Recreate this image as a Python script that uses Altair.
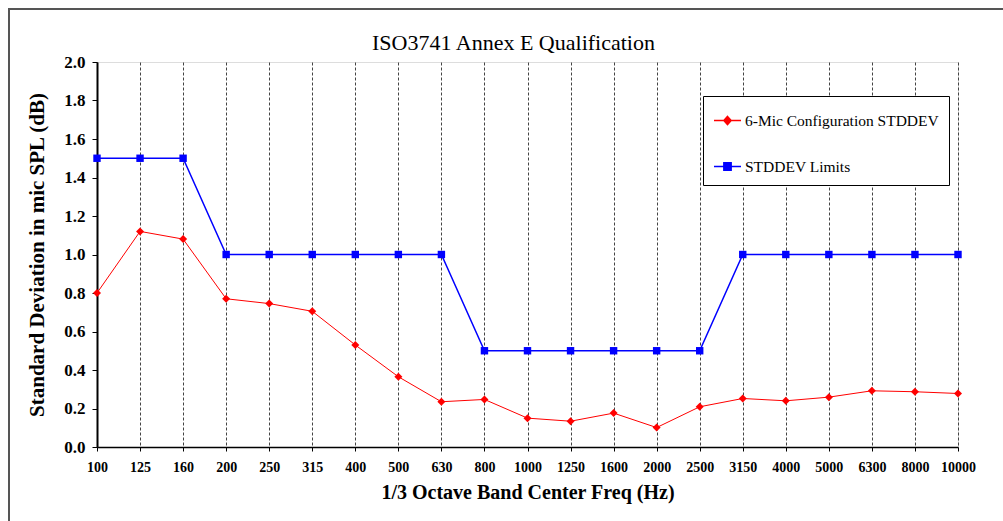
import altair as alt
import pandas as pd

freqs = ["100", "125", "160", "200", "250", "315", "400", "500", "630", "800", "1000",
         "1250", "1600", "2000", "2500", "3150", "4000", "5000", "6300", "8000", "10000"]
mic_stddev = [0.80, 1.12, 1.08, 0.77, 0.745, 0.705, 0.53, 0.365, 0.235, 0.247, 0.15,
              0.134, 0.176, 0.101, 0.209, 0.252, 0.24, 0.259, 0.292, 0.287, 0.278]
limits = [1.5, 1.5, 1.5, 1.0, 1.0, 1.0, 1.0, 1.0, 1.0, 0.5, 0.5,
          0.5, 0.5, 0.5, 0.5, 1.0, 1.0, 1.0, 1.0, 1.0, 1.0]
series_names = ["6-Mic Configuration STDDEV", "STDDEV Limits"]
series_colors = ["#ff0000", "#0000ff"]
y_ticks = [0.0, 0.2, 0.4, 0.6, 0.8, 1.0, 1.2, 1.4, 1.6, 1.8, 2.0]

rows = []
for f, v in zip(freqs, mic_stddev):
    rows.append({"freq": f, "series": series_names[0], "value": v})
for f, v in zip(freqs, limits):
    rows.append({"freq": f, "series": series_names[1], "value": v})
df = pd.DataFrame(rows)

FONT = "Liberation Serif"
W, H = 861, 385

x_enc = alt.X(
    "freq:O",
    scale=alt.Scale(type="point", padding=0, domain=freqs),
    axis=alt.Axis(
        title="1/3 Octave Band Center Freq (Hz)",
        labelAngle=0, grid=True, gridDash=[3, 2], gridColor="#444444", gridWidth=1,
        domainColor="black", domainWidth=1.5, tickColor="black", tickSize=4,
        labelFont=FONT, labelFontSize=14, labelFontWeight="bold", labelColor="black",
        labelPadding=9,
        titleFont=FONT, titleFontSize=20, titleFontWeight="bold", titleColor="black",
        titlePadding=8,
    ),
)
y_enc = alt.Y(
    "value:Q",
    scale=alt.Scale(domain=[0, 2], nice=False, zero=True),
    axis=alt.Axis(
        title="Standard Deviation in mic SPL (dB)",
        values=y_ticks, format=".1f", grid=False,
        domainColor="black", domainWidth=2, tickColor="black", tickSize=5,
        labelFont=FONT, labelFontSize=17, labelFontWeight="bold", labelColor="black",
        labelPadding=7,
        titleFont=FONT, titleFontSize=21, titleFontWeight="bold", titleColor="black",
        titlePadding=16,
    ),
)

base = alt.Chart(df).encode(x=x_enc, y=y_enc)
red = base.transform_filter(alt.datum.series == series_names[0])
blue = base.transform_filter(alt.datum.series == series_names[1])

line_red = red.mark_line(color=series_colors[0], strokeWidth=1)
line_blue = blue.mark_line(color=series_colors[1], strokeWidth=1.5)
pts_red = red.mark_point(shape="diamond", filled=True, size=64, opacity=1, color=series_colors[0])
pts_blue = blue.mark_point(shape="square", filled=True, size=55, opacity=1, color=series_colors[1])

leg = alt.Legend(
    title=None, orient="none", legendX=606, legendY=34, direction="vertical",
    strokeColor="black", fillColor="white", padding=10,
    labelFont=FONT, labelFontSize=15.5, labelColor="black", labelLimit=400, labelOffset=3,
    symbolSize=729, symbolStrokeWidth=1.5, symbolOpacity=1, rowPadding=23,
    symbolFillColor="transparent", symbolStrokeColor="black",
)
path_red = "M-1,0H1M0,-0.3L0.27,0L0,0.3L-0.27,0Z"
path_blue = "M-1,0H1M-0.27,-0.27H0.27V0.27H-0.27Z"
legend_layer = base.mark_point(filled=True, opacity=0).encode(
    fill=alt.Fill("series:N", scale=alt.Scale(domain=series_names, range=series_colors), legend=leg),
    stroke=alt.Stroke("series:N", scale=alt.Scale(domain=series_names, range=series_colors), legend=leg),
    shape=alt.Shape("series:N", scale=alt.Scale(domain=series_names, range=[path_red, path_blue]), legend=leg),
)

frame = alt.Chart(pd.DataFrame({"a": [0]})).mark_rect(fillOpacity=0, stroke="#555555", strokeWidth=2).encode(
    x=alt.value(-88), x2=alt.value(1300), y=alt.value(-53), y2=alt.value(800)
)

chart = alt.layer(frame, line_red, line_blue, pts_red, pts_blue, legend_layer).properties(
    width=W, height=H,
    title=alt.Title("ISO3741 Annex E Qualification", font=FONT, fontSize=22, fontWeight="normal",
                    color="black", anchor="middle", frame="group", dx=-14, offset=-64,
                    baseline="alphabetic"),
    autosize=alt.AutoSizeParams(type="none"),
    padding={"left": 97, "top": 62, "right": 45, "bottom": 74},
).configure_view(stroke="#a6a6a6", strokeWidth=1).configure(background="white")

chart.save("out.html", embed_options={"renderer": "svg", "actions": False})
